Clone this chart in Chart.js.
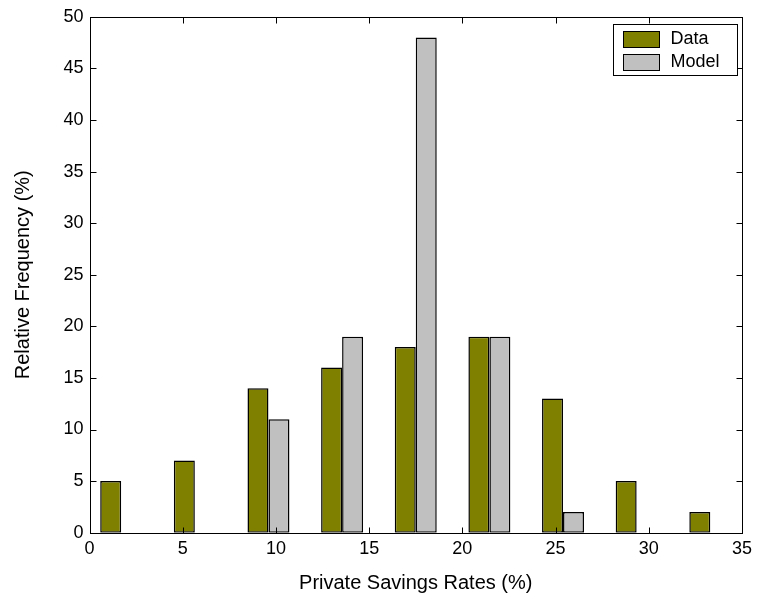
<!DOCTYPE html>
<html>
<head>
<meta charset="utf-8">
<script src="https://cdn.jsdelivr.net/npm/chart.js@4/dist/chart.umd.min.js"></script>
<style>
    body { margin: 0; background: #fff; }
    #wrap { width: 758px; height: 602px; }
</style>
</head>
<body>
<div id="wrap"><canvas id="histChart" width="758" height="602"></canvas></div>
<script>
'use strict';

// bin centres (savings rate, %)
const binCenters = [1.7, 5.65, 9.6, 13.55, 17.5, 21.45, 25.4, 29.35, 33.3];
const dataFreq = [5, 7, 14, 16, 18, 19, 13, 5, 2];
const modelFreq = [0, 0, 11, 19, 48, 19, 2, 0, 0];
const xTicks = [0, 5, 10, 15, 20, 25, 30, 35];
const yTicks = [0, 5, 10, 15, 20, 25, 30, 35, 40, 45, 50];

const FONT = '"Liberation Sans", Arial, Helvetica, sans-serif';

function _points(values) {
    return binCenters.map((c, i) => ({x: c, y: values[i]}));
}

// MATLAB style frame: box, inward ticks on all four sides, legend inside the axes
const framePlugin = {
    id: 'frame',
    afterDatasetsDraw(chart) {
        const {ctx, chartArea, scales} = chart;
        const l = Math.round(chartArea.left) + 0.5;
        const r = Math.round(chartArea.right) + 0.5;
        const t = Math.round(chartArea.top) + 0.5;
        const b = Math.round(chartArea.bottom) + 0.5;
        const tl = 6;

        ctx.save();
        ctx.strokeStyle = '#000';
        ctx.lineWidth = 1;
        ctx.beginPath();
        xTicks.forEach(v => {
            const px = Math.round(scales.x.getPixelForValue(v)) + 0.5;
            ctx.moveTo(px, b); ctx.lineTo(px, b - tl);
            ctx.moveTo(px, t); ctx.lineTo(px, t + tl);
        });
        yTicks.forEach(v => {
            const py = Math.round(scales.y.getPixelForValue(v)) + 0.5;
            ctx.moveTo(l, py); ctx.lineTo(l + tl, py);
            ctx.moveTo(r, py); ctx.lineTo(r - tl, py);
        });
        ctx.stroke();
        ctx.strokeRect(l, t, r - l, b - t);

        // legend
        const boxW = 124, boxH = 51;
        const bx = Math.round(r - 6 - boxW) + 0.5;
        const by = Math.round(t + 6) + 0.5;
        ctx.fillStyle = '#fff';
        ctx.fillRect(bx, by, boxW, boxH);
        ctx.strokeRect(bx, by, boxW, boxH);
        ctx.font = '18px ' + FONT;
        ctx.textBaseline = 'middle';
        chart.data.datasets.forEach((ds, i) => {
            const cy = by + 14.5 + i * 23;
            ctx.fillStyle = ds.backgroundColor;
            ctx.fillRect(bx + 10, Math.round(cy - 8), 36, 16);
            ctx.strokeStyle = '#000';
            ctx.strokeRect(bx + 10, Math.round(cy - 8) + 0.5, 36, 16);
            ctx.fillStyle = '#000';
            ctx.fillText(ds.label, bx + 57, cy);
        });
        ctx.restore();
    }
};

function _createChart(container) {
    return new Chart(container.getContext('2d'), {
        type: 'bar',
        data: {
            datasets: [
                {
                    label: 'Data',
                    data: _points(dataFreq),
                    backgroundColor: '#808000',
                    borderColor: '#000',
                    borderWidth: 1.5,
                    borderSkipped: false
                },
                {
                    label: 'Model',
                    data: _points(modelFreq),
                    backgroundColor: '#c0c0c0',
                    borderColor: '#000',
                    borderWidth: 1.5,
                    borderSkipped: false
                }
            ]
        },
        options: {
            responsive: false,
            animation: false,
            categoryPercentage: 0.57,
            barPercentage: 1.0,
            layout: {padding: {left: 0, right: 15, top: 16.7, bottom: 0}},
            plugins: {legend: {display: false}, tooltip: {enabled: false}},
            scales: {
                x: {
                    type: 'linear',
                    min: 0,
                    max: 35,
                    offset: false,
                    grid: {display: false, drawTicks: false},
                    border: {display: false},
                    afterBuildTicks: scale => { scale.ticks = xTicks.map(v => ({value: v})); },
                    afterFit: scale => { scale.height = 69.3; },
                    ticks: {color: '#000', padding: 6, maxRotation: 0, font: {family: FONT, size: 18}},
                    title: {
                        display: true,
                        text: 'Private Savings Rates (%)',
                        color: '#000',
                        font: {family: FONT, size: 20},
                        padding: {top: 0, bottom: 7}
                    }
                },
                y: {
                    min: 0,
                    max: 50,
                    grid: {display: false, drawTicks: false},
                    border: {display: false},
                    afterBuildTicks: scale => { scale.ticks = yTicks.map(v => ({value: v})); },
                    afterFit: scale => { scale.width = 89.5; },
                    ticks: {color: '#000', padding: 6, font: {family: FONT, size: 18}},
                    title: {
                        display: true,
                        text: 'Relative Frequency (%)',
                        color: '#000',
                        font: {family: FONT, size: 20},
                        padding: {top: 11, bottom: 0}
                    }
                }
            }
        },
        plugins: [framePlugin]
    });
}

_createChart(document.getElementById('histChart'));
</script>
</body>
</html>
